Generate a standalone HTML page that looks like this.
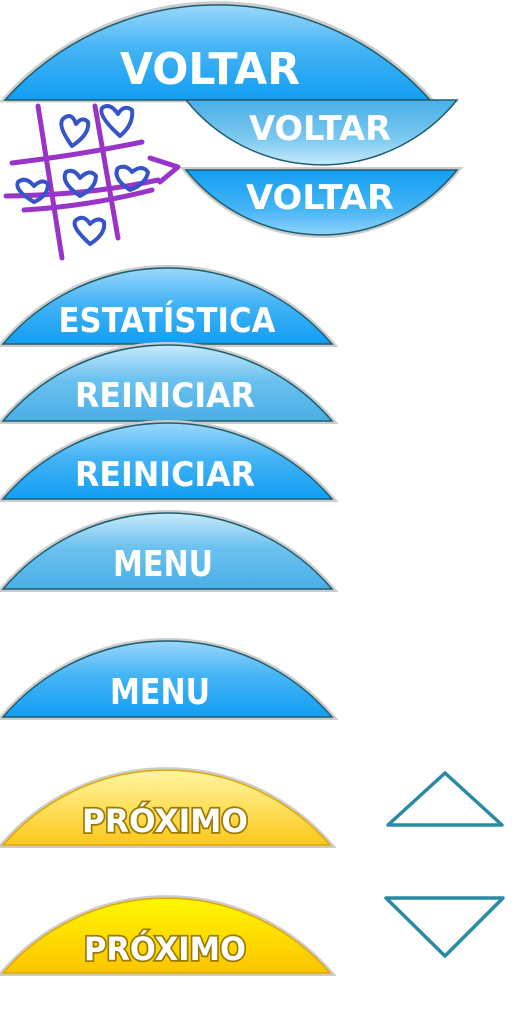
<!DOCTYPE html>
<html><head><meta charset="utf-8"><style>
html,body{margin:0;padding:0;background:#fff;width:512px;height:1024px;overflow:hidden}
text{font-family:"DejaVu Sans","Liberation Sans",sans-serif;font-weight:bold;fill:#fff}
</style></head><body>
<svg width="512" height="1024" viewBox="0 0 512 1024" xmlns="http://www.w3.org/2000/svg">
<defs>
<linearGradient id="bb" x1="0" y1="0" x2="0" y2="1"><stop offset="0" stop-color="#9ad8fc"/><stop offset="0.45" stop-color="#45b4f5"/><stop offset="1" stop-color="#129ef3"/></linearGradient>
<linearGradient id="bl" x1="0" y1="0" x2="0" y2="1"><stop offset="0" stop-color="#c6eafc"/><stop offset="0.45" stop-color="#6cc2ef"/><stop offset="1" stop-color="#4aaee6"/></linearGradient>
<linearGradient id="ib" x1="0" y1="0" x2="0" y2="1"><stop offset="0" stop-color="#129ef3"/><stop offset="0.6" stop-color="#45b4f5"/><stop offset="1" stop-color="#8fd3fb"/></linearGradient>
<linearGradient id="il" x1="0" y1="0" x2="0" y2="1"><stop offset="0" stop-color="#4aaee6"/><stop offset="0.6" stop-color="#7cc9f0"/><stop offset="1" stop-color="#c6eafc"/></linearGradient>
<linearGradient id="y1" x1="0" y1="0" x2="0" y2="1"><stop offset="0" stop-color="#fff6a0"/><stop offset="1" stop-color="#fcc81a"/></linearGradient>
<linearGradient id="y2" x1="0" y1="0" x2="0" y2="1"><stop offset="0" stop-color="#fff700"/><stop offset="1" stop-color="#fcc400"/></linearGradient>
</defs>

<g>
<path d="M4,100 A285,285 0 0 1 431,100 Z" fill="none" stroke="#ccc" stroke-width="5"/>
<path d="M5,100 A285,285 0 0 1 430,100 Z" fill="url(#bb)" stroke="#1c5e6e" stroke-width="1.5"/>
<text x="210" y="84" font-size="44" text-anchor="middle" textLength="180" lengthAdjust="spacingAndGlyphs">VOLTAR</text>
</g>

<g>
<path d="M186,100 L457,100 A174,174 0 0 1 186,100 Z" fill="url(#il)" stroke="#1c5e6e" stroke-width="1.5"/>
<text x="320" y="140" font-size="34" text-anchor="middle" textLength="142" lengthAdjust="spacingAndGlyphs">VOLTAR</text>
</g>

<g>
<path d="M186,170 L457,170 A174,174 0 0 1 186,170 Z" fill="none" stroke="#ccc" stroke-width="6"/>
<path d="M186,170 L457,170 A174,174 0 0 1 186,170 Z" fill="url(#ib)" stroke="#1c5e6e" stroke-width="1.5"/>
<text x="320" y="209" font-size="34" text-anchor="middle" textLength="148" lengthAdjust="spacingAndGlyphs">VOLTAR</text>
</g>

<g fill="none" stroke-linecap="round" stroke-linejoin="round">
<g stroke="#9a34c8" stroke-width="5">
<path d="M38,106 L62,258"/><path d="M95,106 L118,238"/>
<path d="M12,163 Q80,155 142,142"/><path d="M6,196 Q90,195 158,180"/><path d="M24,210 Q90,206 152,190"/>
<path d="M150,158 L178,167 L160,182"/>
</g>
<g stroke="#3554c8" stroke-width="4">
<path d="M72,146 Q56,124 64,118 Q72,112 76,124 Q82,116 88,122 Q90,134 72,146Z"/>
<path d="M120,136 Q98,116 102,108 Q110,102 118,114 Q124,104 132,110 Q134,124 120,136Z"/>
<path d="M90,244 Q70,226 76,220 Q84,214 90,224 Q98,216 104,222 Q106,234 90,244Z"/>
<path d="M34,202 Q14,190 18,182 Q26,176 34,186 Q42,178 48,184 Q48,196 34,202Z"/>
<path d="M80,196 Q60,182 66,172 Q74,168 80,178 Q90,168 96,176 Q96,188 80,196Z"/>
<path d="M130,190 Q112,178 118,168 Q126,164 132,172 Q142,164 148,172 Q146,184 130,190Z"/>
</g>
</g>

<g>
<path d="M3,344 A216,216 0 0 1 332,344 Z" fill="none" stroke="#ccc" stroke-width="6"/>
<path d="M3,344 A216,216 0 0 1 332,344 Z" fill="url(#bb)" stroke="#1c5e6e" stroke-width="1.5"/>
<text x="167" y="332" font-size="34" text-anchor="middle" textLength="217" lengthAdjust="spacingAndGlyphs">ESTATÍSTICA</text>
</g>

<g>
<path d="M3,421 A216,216 0 0 1 332,421 Z" fill="none" stroke="#ccc" stroke-width="6"/>
<path d="M3,421 A216,216 0 0 1 332,421 Z" fill="url(#bl)" stroke="#1c5e6e" stroke-width="1.5"/>
<text x="165" y="407" font-size="34" text-anchor="middle" textLength="180" lengthAdjust="spacingAndGlyphs">REINICIAR</text>
</g>

<g>
<path d="M3,499 A216,216 0 0 1 332,499 Z" fill="none" stroke="#ccc" stroke-width="6"/>
<path d="M3,499 A216,216 0 0 1 332,499 Z" fill="url(#bb)" stroke="#1c5e6e" stroke-width="1.5"/>
<text x="165" y="486" font-size="34" text-anchor="middle" textLength="180" lengthAdjust="spacingAndGlyphs">REINICIAR</text>
</g>

<g>
<path d="M3,589 A216,216 0 0 1 332,589 Z" fill="none" stroke="#ccc" stroke-width="6"/>
<path d="M3,589 A216,216 0 0 1 332,589 Z" fill="url(#bl)" stroke="#1c5e6e" stroke-width="1.5"/>
<text x="163" y="576" font-size="36" text-anchor="middle" textLength="100" lengthAdjust="spacingAndGlyphs">MENU</text>
</g>

<g>
<path d="M3,717 A216,216 0 0 1 332,717 Z" fill="none" stroke="#ccc" stroke-width="6"/>
<path d="M3,717 A216,216 0 0 1 332,717 Z" fill="url(#bb)" stroke="#1c5e6e" stroke-width="1.5"/>
<text x="160" y="704" font-size="36" text-anchor="middle" textLength="100" lengthAdjust="spacingAndGlyphs">MENU</text>
</g>

<g>
<path d="M3,845 A216,216 0 0 1 330,845 Z" fill="none" stroke="#ccc" stroke-width="6"/>
<path d="M3,845 A216,216 0 0 1 330,845 Z" fill="url(#y1)" stroke="#e0a800" stroke-width="1.5"/>
<text x="165" y="832" font-size="32" text-anchor="middle" textLength="166" lengthAdjust="spacingAndGlyphs" stroke="#9a7a00" stroke-width="3.5" paint-order="stroke">PRÓXIMO</text>
</g>

<g>
<path d="M3,973 A216,216 0 0 1 330,973 Z" fill="none" stroke="#ccc" stroke-width="6"/>
<path d="M3,973 A216,216 0 0 1 330,973 Z" fill="url(#y2)" stroke="#e0a800" stroke-width="1.5"/>
<text x="165" y="960" font-size="32" text-anchor="middle" textLength="162" lengthAdjust="spacingAndGlyphs" stroke="#9a7a00" stroke-width="3.5" paint-order="stroke">PRÓXIMO</text>
</g>

<polygon points="388,825 445,773 502,825" fill="#fff" stroke="#2a8aa4" stroke-width="3.5" stroke-linejoin="round"/>
<polygon points="386,898 503,898 445,956" fill="#fff" stroke="#2a8aa4" stroke-width="3.5" stroke-linejoin="round"/>
</svg>
</body></html>
